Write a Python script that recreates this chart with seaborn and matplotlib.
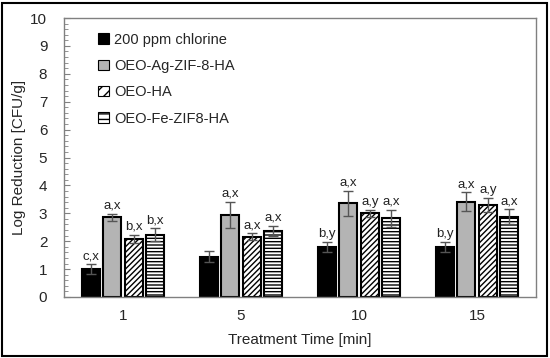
import numpy as np
import pandas as pd
import seaborn as sns
import matplotlib.pyplot as plt
from matplotlib.patches import Rectangle
from matplotlib.ticker import MultipleLocator

times = ["1", "5", "10", "15"]
treatments = ["200 ppm chlorine", "OEO-Ag-ZIF-8-HA", "OEO-HA", "OEO-Fe-ZIF8-HA"]

chlorine = [1.00, 1.45, 1.80, 1.80]
ag_zif = [2.86, 2.93, 3.36, 3.42]
oeo_ha = [2.08, 2.16, 3.00, 3.30]
fe_zif = [2.24, 2.37, 2.82, 2.88]

chlorine_err = [0.17, 0.20, 0.18, 0.18]
ag_zif_err = [0.12, 0.47, 0.45, 0.33]
oeo_ha_err = [0.15, 0.12, 0.12, 0.24]
fe_zif_err = [0.22, 0.18, 0.30, 0.26]

chlorine_lbl = ["c,x", "", "b,y", "b,y"]
ag_zif_lbl = ["a,x", "a,x", "a,x", "a,x"]
oeo_ha_lbl = ["b,x", "a,x", "a,y", "a,y"]
fe_zif_lbl = ["b,x", "a,x", "a,x", "a,x"]

values = [chlorine, ag_zif, oeo_ha, fe_zif]
errors = [chlorine_err, ag_zif_err, oeo_ha_err, fe_zif_err]
labels = [chlorine_lbl, ag_zif_lbl, oeo_ha_lbl, fe_zif_lbl]

df = pd.DataFrame({
    "time": np.tile(times, len(treatments)),
    "treatment": np.repeat(treatments, len(times)),
    "value": np.concatenate(values),
})

sns.set_theme(style="white")
plt.rcParams["font.family"] = ["Liberation Sans", "DejaVu Sans"]
plt.rcParams["hatch.linewidth"] = 1.0

fig = plt.figure(figsize=(5.5, 3.58), dpi=100)
ax = fig.add_axes([64 / 550, 1 - 297 / 358, 472 / 550, 279 / 358])

colors = ["black", "#b4b4b4", "white", "white"]
hatches = [None, None, "//////", "-----"]

sns.barplot(data=df, x="time", y="value", hue="treatment", order=times,
            hue_order=treatments, palette=colors, width=0.73, gap=0.17,
            edgecolor="black", linewidth=1.5, errorbar=None, ax=ax)

bar_groups = list(ax.containers)
for i, cont in enumerate(bar_groups):
    for j, bar in enumerate(cont):
        if hatches[i]:
            bar.set_hatch(hatches[i])
        x = bar.get_x() + bar.get_width() / 2
        h = bar.get_height()
        e = errors[i][j]
        ax.errorbar(x, h, yerr=e, color="#555555", capsize=3.5, elinewidth=1,
                    capthick=1, zorder=5)
        if labels[i][j]:
            ax.text(x, h + e + 0.08, labels[i][j], ha="center", va="bottom",
                    fontsize=9.5, color="#222222")

ax.set_ylim(0, 10)
ax.set_xlim(-0.5, 3.5)
ax.yaxis.set_major_locator(MultipleLocator(1))
ax.yaxis.set_minor_locator(MultipleLocator(0.2))
ax.tick_params(axis="y", which="major", direction="in", length=4, width=0.8,
               color="#808080", labelsize=11, pad=12, left=True)
ax.tick_params(axis="y", which="minor", direction="in", length=3, width=0.6,
               color="#808080", left=True)
ax.tick_params(axis="x", length=0, labelsize=11, pad=9)
for s in ax.spines.values():
    s.set_color("#808080")
    s.set_linewidth(1.0)

ax.set_xlabel("Treatment Time [min]", fontsize=11, labelpad=7)
ax.set_ylabel("Log Reduction [CFU/g]", fontsize=11, labelpad=3)

leg = ax.legend(loc="upper left", bbox_to_anchor=(0.045, 0.995), frameon=False,
                fontsize=10.5, handlelength=0.7, handleheight=0.7,
                handletextpad=0.4, labelspacing=0.85)
for i, hnd in enumerate(leg.legend_handles):
    hnd.set_linewidth(0.8)
    if hatches[i]:
        hnd.set_hatch(hatches[i][:3])

fig.patches.append(Rectangle((2 / 550, 2 / 358), 545 / 550, 353 / 358,
                             transform=fig.transFigure, fill=False,
                             edgecolor="black", linewidth=1.5))

fig.savefig("out.png", dpi=100)
